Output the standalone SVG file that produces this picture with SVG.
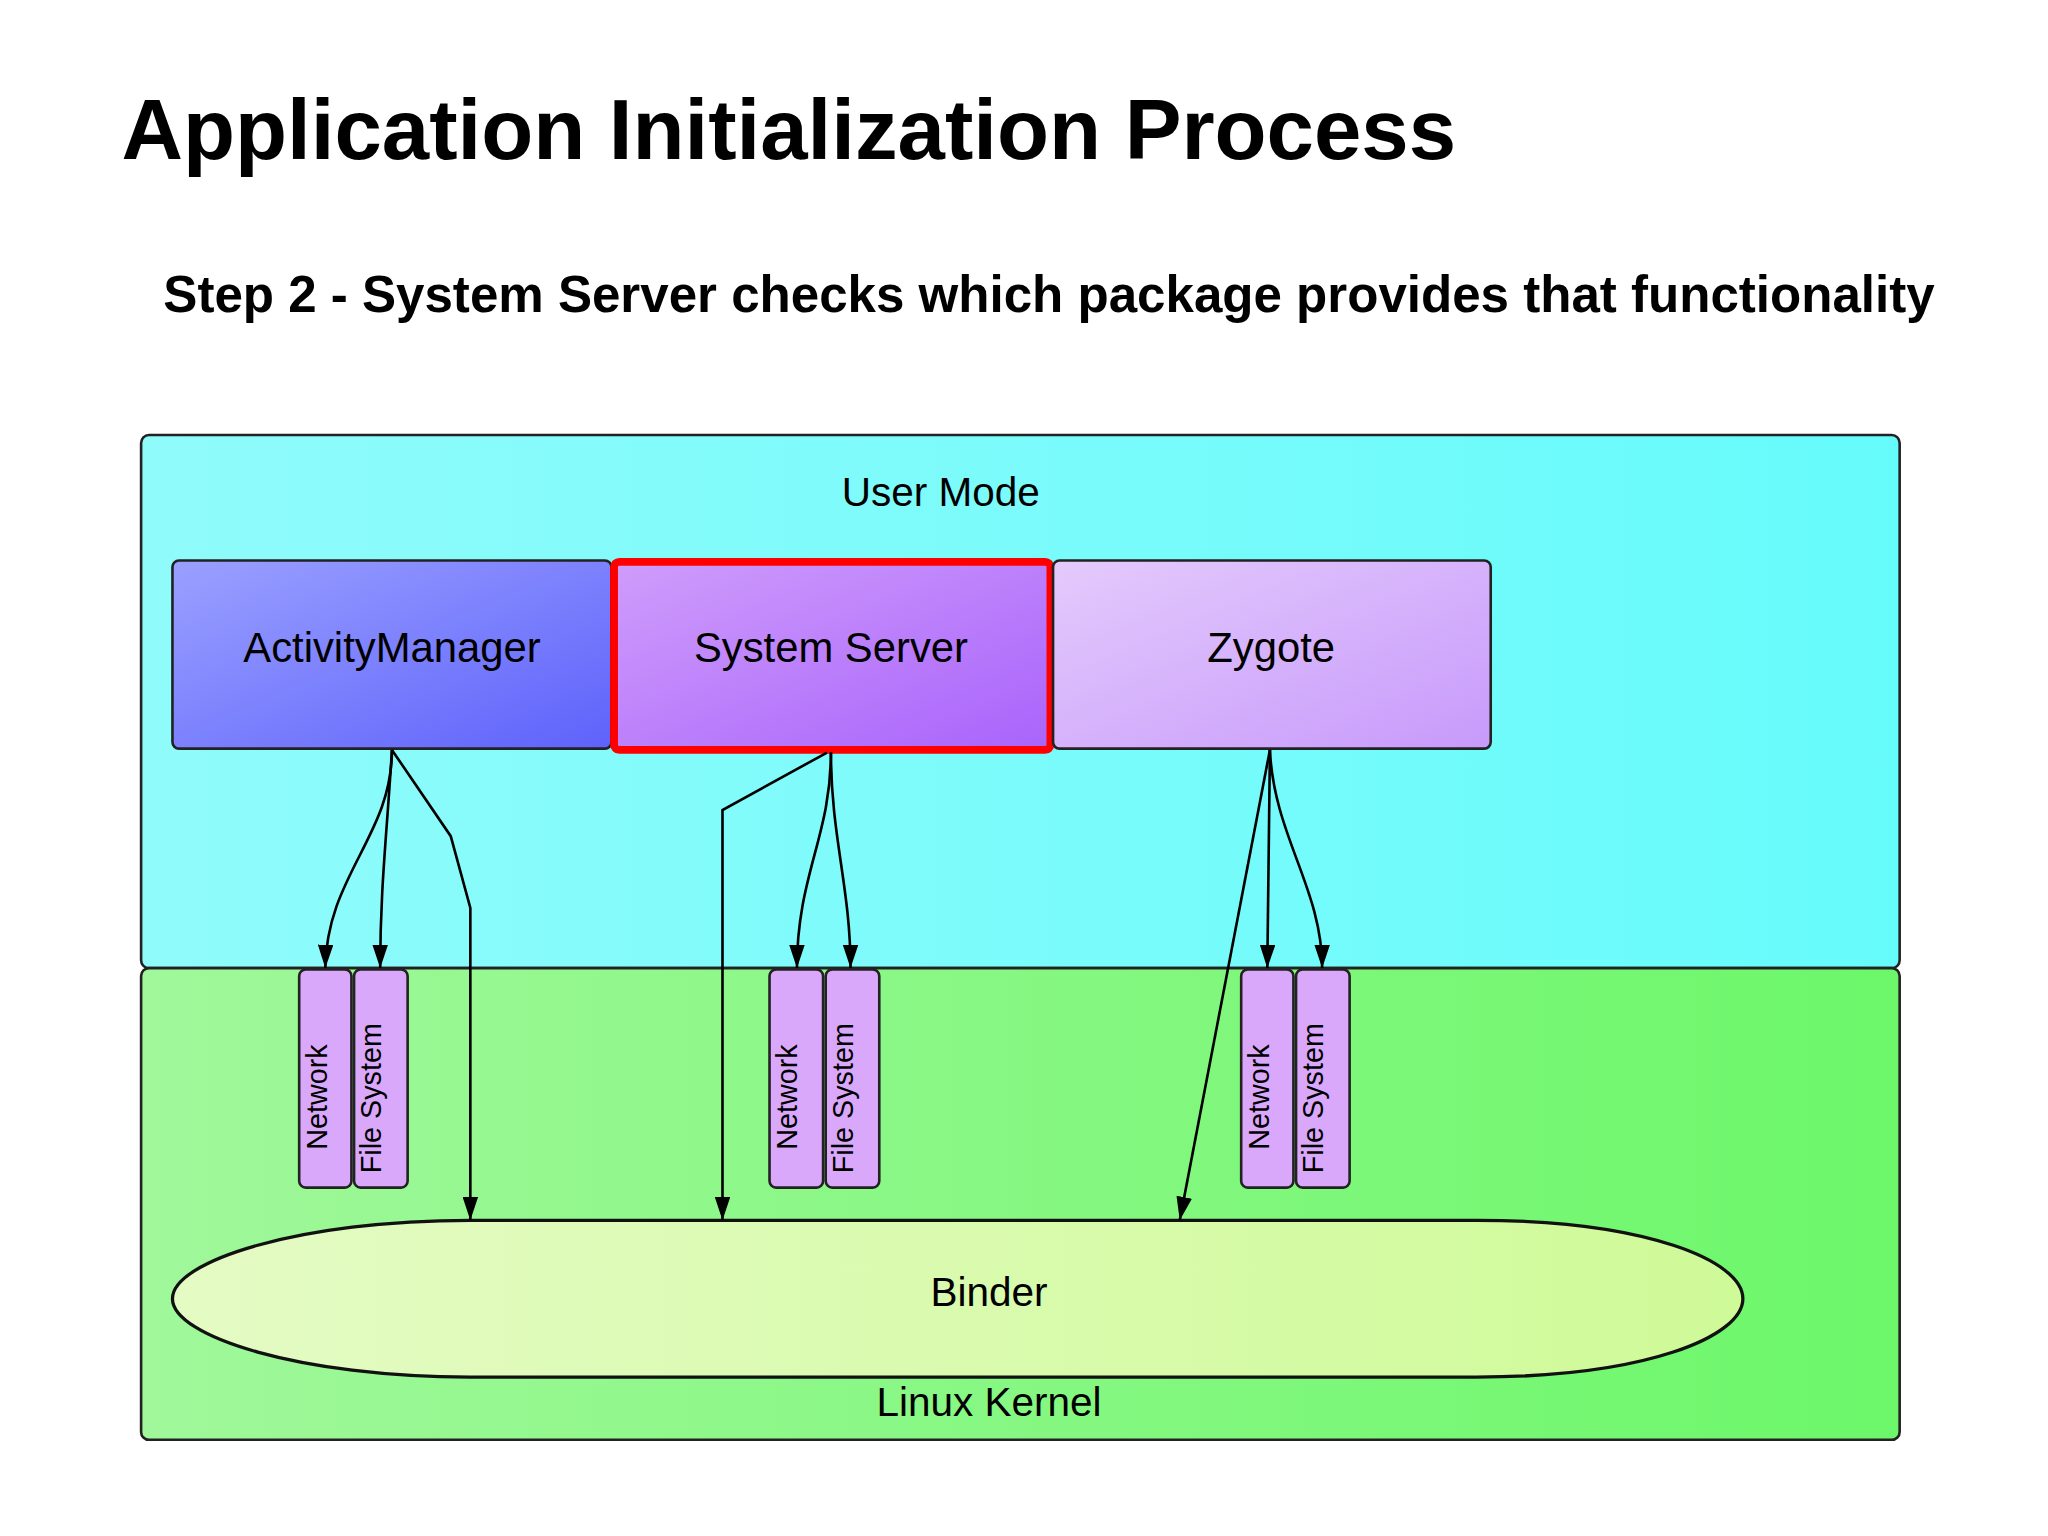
<svg xmlns="http://www.w3.org/2000/svg" width="2048" height="1536" viewBox="0 0 2048 1536">
<defs>
<linearGradient id="gU" x1="0" y1="0" x2="1" y2="0"><stop offset="0" stop-color="#90fbfb"/><stop offset="1" stop-color="#66fbfb"/></linearGradient>
<linearGradient id="gK" x1="0" y1="0" x2="1" y2="0"><stop offset="0" stop-color="#a0f89a"/><stop offset="1" stop-color="#6cf76a"/></linearGradient>
<linearGradient id="gA" x1="0" y1="0" x2="1" y2="1"><stop offset="0" stop-color="#9aa0ff"/><stop offset="1" stop-color="#5e62fb"/></linearGradient>
<linearGradient id="gS" x1="0" y1="0" x2="1" y2="1"><stop offset="0" stop-color="#cf9dfb"/><stop offset="1" stop-color="#a963fb"/></linearGradient>
<linearGradient id="gZ" x1="0" y1="0" x2="1" y2="1"><stop offset="0" stop-color="#e4cafc"/><stop offset="1" stop-color="#c79afb"/></linearGradient>
<linearGradient id="gB" x1="0" y1="0" x2="1" y2="0"><stop offset="0" stop-color="#e4fbc4"/><stop offset="1" stop-color="#cffa98"/></linearGradient>
<marker id="ar" markerWidth="18" markerHeight="12" refX="18" refY="6" viewBox="0 0 18 12" orient="auto" markerUnits="userSpaceOnUse"><path d="M0,0 L18,6 L0,12 Z" fill="#000"/></marker>
<style>
.t{font-family:"Liberation Sans",Arial,sans-serif;fill:#000}
.box{stroke:#222;stroke-width:2}
.sm{fill:#d9a8fb;stroke:#222;stroke-width:2}
.c{fill:none;stroke:#000;stroke-width:2;marker-end:url(#ar)}
</style>
</defs>
<rect width="2048" height="1536" fill="#fff"/>
<g transform="scale(1.3065)">
<text class="t" x="93" y="122" font-size="65.2" font-weight="bold">Application Initialization Process</text>
<text class="t" x="125" y="239" font-size="39.1" font-weight="bold">Step 2 - System Server checks which package provides that functionality</text>
<g id="usermode"><rect x="108" y="333" width="1346" height="408" rx="6" fill="url(#gU)" class="box"/>
<text class="t" x="720" y="387" font-size="31" text-anchor="middle">User Mode</text></g>
<g id="kernel"><rect x="108" y="741" width="1346" height="361" rx="6" fill="url(#gK)" class="box"/>
<text class="t" x="757" y="1084" font-size="31" text-anchor="middle">Linux Kernel</text></g>
<g id="binder"><path d="M360,934 H1130 C1260,934 1334,965 1334,994 C1334,1023 1260,1054 1130,1054 H360 C230,1054 132,1023 132,994 C132,965 230,934 360,934 Z" fill="url(#gB)" stroke="#111" stroke-width="2.5"/>
<text class="t" x="757" y="1000" font-size="31" text-anchor="middle">Binder</text></g>
<g id="am"><rect x="132" y="429" width="336" height="144" rx="5" fill="url(#gA)" class="box"/>
<text class="t" x="300" y="507" font-size="32" text-anchor="middle">ActivityManager</text></g>
<g id="ss"><rect x="470" y="430" width="334" height="144" rx="4" fill="url(#gS)" stroke="#f00" stroke-width="6"/>
<text class="t" x="636" y="507" font-size="32" text-anchor="middle">System Server</text></g>
<g id="zy"><rect x="806" y="429" width="335" height="144" rx="5" fill="url(#gZ)" class="box"/>
<text class="t" x="973" y="507" font-size="32" text-anchor="middle">Zygote</text></g>
<g id="am-net"><rect x="229" y="742" width="40" height="167" rx="5" class="sm"/><text class="t" font-size="22" transform="translate(250,880) rotate(-90)">Network</text></g>
<g id="am-fs"><rect x="271" y="742" width="41" height="167" rx="5" class="sm"/><text class="t" font-size="22" transform="translate(292,898) rotate(-90)">File System</text></g>
<g id="ss-net"><rect x="589" y="742" width="41" height="167" rx="5" class="sm"/><text class="t" font-size="22" transform="translate(610,880) rotate(-90)">Network</text></g>
<g id="ss-fs"><rect x="632" y="742" width="41" height="167" rx="5" class="sm"/><text class="t" font-size="22" transform="translate(653,898) rotate(-90)">File System</text></g>
<g id="zy-net"><rect x="950" y="742" width="40" height="167" rx="5" class="sm"/><text class="t" font-size="22" transform="translate(971,880) rotate(-90)">Network</text></g>
<g id="zy-fs"><rect x="992" y="742" width="41" height="167" rx="5" class="sm"/><text class="t" font-size="22" transform="translate(1013,898) rotate(-90)">File System</text></g>
<g id="connectors">
<path class="c" d="M300,574 C300,640 250,670 249,741"/>
<path class="c" d="M300,574 C296,640 291,680 291,741"/>
<path class="c" d="M300,574 L345,640 L360,695 V934"/>
<path class="c" d="M633,576 L553,620 V934"/>
<path class="c" d="M636,576 C636,640 610,670 610,741"/>
<path class="c" d="M636,576 C636,640 651,680 651,741"/>
<path class="c" d="M972,574 L903,934"/>
<path class="c" d="M972,574 L970,741"/>
<path class="c" d="M972,574 C975,640 1012,680 1012,741"/>
</g>
</g>
</svg>
